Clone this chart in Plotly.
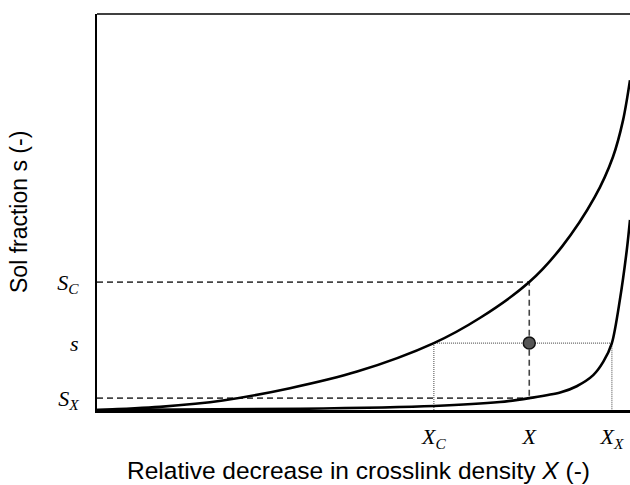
import plotly.graph_objects as go

# Curves (normalized X, s)
upper_x = [0.0, 0.118, 0.236, 0.362, 0.488, 0.632, 0.719, 0.811, 0.872, 0.934, 0.968, 0.987, 1.0]
upper_y = [0.0, 0.008, 0.024, 0.055, 0.097, 0.169, 0.233, 0.323, 0.412, 0.538, 0.639, 0.732, 0.833]
lower_x = [0.0, 0.381, 0.632, 0.756, 0.811, 0.869, 0.900, 0.931, 0.950, 0.966, 0.981, 0.994, 1.0]
lower_y = [0.0, 0.003, 0.010, 0.020, 0.030, 0.044, 0.060, 0.088, 0.122, 0.169, 0.278, 0.404, 0.480]

# Key values
X_C, X_val, X_X = 0.632, 0.811, 0.966
S_C, s_val, S_X = 0.323, 0.169, 0.030

x_ticks = [X_C, X_val, X_X]
x_ticktext = ["<i>X</i><sub><i>C</i></sub>", "<i>X</i>", "<i>X</i><sub><i>X</i></sub>"]
y_ticks = [S_X, s_val, S_C]
y_ticktext = ["<i>S</i><sub><i>X</i></sub>", "<i>s</i>", "<i>S</i><sub><i>C</i></sub>"]

fig = go.Figure()

dash_style = dict(color="#444444", width=1.6, dash="6px,4px")
dot_style = dict(color="#666666", width=1.2, dash="1px,1px")

# Dashed guide lines
fig.add_trace(go.Scatter(x=[0, X_val, X_val], y=[S_C, S_C, S_X], mode="lines",
                         line=dash_style, hoverinfo="skip"))
fig.add_trace(go.Scatter(x=[0, X_val], y=[S_X, S_X], mode="lines",
                         line=dash_style, hoverinfo="skip"))
# Dotted guide lines
fig.add_trace(go.Scatter(x=[X_C, X_C, X_X, X_X], y=[0, s_val, s_val, 0], mode="lines",
                         line=dot_style, hoverinfo="skip"))

# Curves
fig.add_trace(go.Scatter(x=upper_x, y=upper_y, mode="lines",
                         line=dict(color="black", width=2.6, shape="spline", smoothing=0.9)))
fig.add_trace(go.Scatter(x=lower_x, y=lower_y, mode="lines",
                         line=dict(color="black", width=2.6, shape="spline", smoothing=0.8)))

# Marker
fig.add_trace(go.Scatter(x=[X_val], y=[s_val], mode="markers",
                         marker=dict(size=12, color="#555555", line=dict(color="#111111", width=1.5))))

tick_font = dict(family="Liberation Serif", size=22, color="black")

fig.update_layout(
    width=630, height=485,
    margin=dict(l=97, r=0, t=14, b=75),
    paper_bgcolor="white", plot_bgcolor="white",
    showlegend=False,
    xaxis=dict(range=[0, 1], showgrid=False, zeroline=False, showline=True,
               linecolor="black", linewidth=2.5, ticks="",
               tickvals=x_ticks, ticktext=x_ticktext, tickfont=tick_font,
               ticklabelstandoff=5),
    yaxis=dict(range=[0, 1], showgrid=False, zeroline=False, showline=True,
               linecolor="black", linewidth=2, ticks="",
               tickvals=y_ticks, ticktext=y_ticktext, tickfont=tick_font,
               ticklabelstandoff=12),
    shapes=[dict(type="line", xref="paper", yref="paper", x0=0, x1=1, y0=1, y1=1,
                 line=dict(color="black", width=1.6))],
    annotations=[
        dict(text="Relative decrease in crosslink density <i>X</i> (-)", xref="paper", yref="paper",
             x=(358 - 97) / 533, y=-0.153, xanchor="center", yanchor="middle", showarrow=False,
             font=dict(family="Liberation Sans", size=24.5, color="black")),
        dict(text="Sol fraction s (-)", xref="paper", yref="paper",
             x=(19 - 97) / 533, y=0.5, xanchor="center", yanchor="middle", showarrow=False, textangle=-90,
             font=dict(family="Liberation Sans", size=23, color="black")),
    ],
)

fig.write_html("out.html")
